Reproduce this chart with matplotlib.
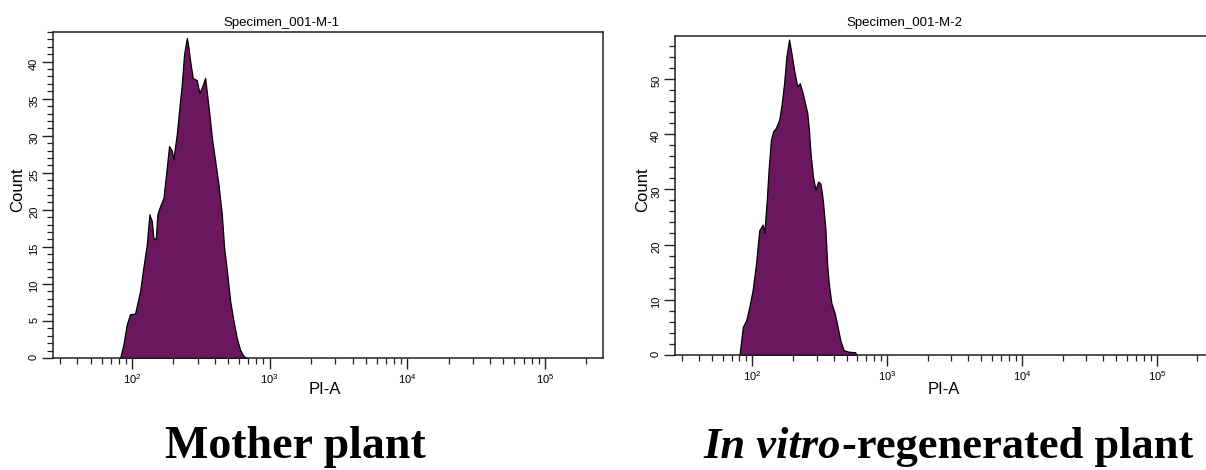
import matplotlib
matplotlib.use("Agg")
import matplotlib.pyplot as plt
import numpy as np
from matplotlib.ticker import LogLocator, MultipleLocator, NullFormatter

plt.rcParams['font.family'] = ['Liberation Sans', 'DejaVu Sans']
plt.rcParams['mathtext.fontset'] = 'custom'
plt.rcParams['mathtext.rm'] = 'Liberation Sans'
plt.rcParams['mathtext.it'] = 'Liberation Sans:italic'

# PI-A (log10) and counts
mother_log_pi = [1.913, 1.937, 1.961, 1.985, 2.022, 2.058, 2.082, 2.107, 2.126, 2.143,
                 2.155, 2.172, 2.184, 2.204, 2.228, 2.247, 2.269, 2.289, 2.300, 2.325,
                 2.344, 2.361, 2.378, 2.398, 2.410, 2.422, 2.441, 2.470, 2.489, 2.507,
                 2.531, 2.548, 2.562, 2.580, 2.604, 2.628, 2.652, 2.669, 2.689, 2.713,
                 2.737, 2.761, 2.785, 2.809, 2.833]
mother_count = [0, 1.8, 4.5, 5.9, 6.0, 9.0, 12.2, 15.3, 19.4, 18.5,
                16.2, 16.0, 19.4, 20.5, 21.6, 24.8, 28.6, 28.0, 26.8, 30.2,
                33.8, 36.9, 41.0, 43.2, 41.9, 40.1, 37.8, 37.5, 35.8, 36.5,
                37.8, 35.1, 32.9, 29.7, 26.6, 23.4, 19.4, 14.9, 11.8, 7.7,
                5.0, 2.7, 1.1, 0.3, 0]

regen_log_pi = [1.904, 1.929, 1.954, 1.978, 2.002, 2.027, 2.051, 2.076, 2.088, 2.105,
                2.120, 2.137, 2.154, 2.174, 2.199, 2.218, 2.235, 2.252, 2.272, 2.289,
                2.309, 2.333, 2.351, 2.370, 2.390, 2.407, 2.419, 2.431, 2.449, 2.468,
                2.488, 2.505, 2.522, 2.542, 2.554, 2.566, 2.586, 2.610, 2.627, 2.652,
                2.676, 2.713, 2.762, 2.774]
regen_count = [0, 5.1, 6.3, 8.8, 11.8, 16.6, 22.6, 23.6, 22.1, 27.5,
               33.5, 38.9, 40.5, 41.1, 42.6, 45.6, 49.2, 54.0, 57.1, 54.7,
               51.6, 48.6, 49.2, 47.7, 45.6, 43.8, 40.8, 36.5, 32.3, 29.9,
               31.4, 31.0, 28.1, 22.6, 16.6, 13.0, 9.4, 7.6, 5.7, 2.7,
               0.9, 0.6, 0.5, 0]

titles = ["Specimen_001-M-1", "Specimen_001-M-2"]
x_range = (10 ** 1.4255, 10 ** 5.422)
y_max = [44.0, 57.8]
y_major = [5, 10]
y_minor = [1, 2]

FILL = "#6b1760"
W, H = 1206, 470

fig = plt.figure(figsize=(W / 100, H / 100), dpi=100)


def px(x, y):
    return x / W, 1 - y / H


def draw_panel(rect, log_pi, count, title, ymax, major, minor,
               title_x, count_x, xlabel_x):
    ax = fig.add_axes(rect)
    x = 10 ** np.array(log_pi)
    ax.fill_between(x, count, facecolor=FILL, edgecolor="black", linewidth=0.9)
    ax.set_xscale("log")
    ax.set_xlim(*x_range)
    ax.set_ylim(0, ymax)
    ax.xaxis.set_major_locator(LogLocator(base=10, numticks=10))
    ax.xaxis.set_minor_locator(LogLocator(base=10, subs=np.arange(2, 10), numticks=20))
    ax.xaxis.set_minor_formatter(NullFormatter())
    ax.yaxis.set_major_locator(MultipleLocator(major))
    ax.yaxis.set_minor_locator(MultipleLocator(minor))
    ax.tick_params(which="major", direction="out", length=8, width=1.0,
                   labelsize=8, color="#222222", pad=2)
    ax.tick_params(which="minor", direction="out", length=4.5, width=0.9,
                   color="#222222")
    ax.tick_params(axis="y", labelrotation=90)
    for s in ax.spines.values():
        s.set_linewidth(1.1)
        s.set_color("#222222")

    fig.text(*px(title_x, 26), title, ha="center", va="baseline", fontsize=9.5)
    fig.text(*px(count_x, 190), "Count", rotation=90, ha="center", va="center",
             fontsize=12)
    fig.text(*px(xlabel_x, 390), "PI-A", ha="center", va="center", fontsize=12)
    return ax


draw_panel([53 / W, 1 - 358 / H, 550 / W, 326 / H], mother_log_pi, mother_count,
           titles[0], y_max[0], y_major[0], y_minor[0], 281, 18, 325)
draw_panel([675 / W, 1 - 355 / H, 538.6 / W, 319.3 / H], regen_log_pi, regen_count,
           titles[1], y_max[1], y_major[1], y_minor[1], 904, 643, 944)

serif = ['Liberation Serif', 'DejaVu Serif']
fig.text(*px(295, 458), "Mother plant", ha="center", va="baseline",
         fontsize=33, fontweight="bold", family=serif)
fig.text(*px(841, 458), "In vitro", ha="right", va="baseline",
         fontsize=32, fontweight="bold", fontstyle="italic", family=serif)
fig.text(*px(842, 458), "-regenerated plant", ha="left", va="baseline",
         fontsize=32, fontweight="bold", family=serif)

fig.savefig("out.png", dpi=100)
